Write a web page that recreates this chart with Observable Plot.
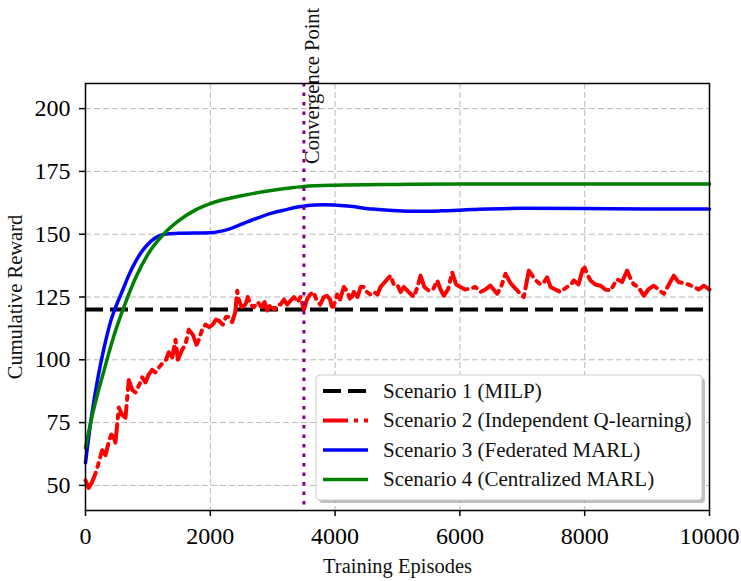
<!DOCTYPE html>
<html>
<head>
<meta charset="utf-8">
<script src="https://cdn.jsdelivr.net/npm/d3@7"></script>
<script src="https://cdn.jsdelivr.net/npm/@observablehq/plot@0.6"></script>
<style>
  html, body { margin: 0; padding: 0; background: white; }
</style>
</head>
<body>
<div id="chart"></div>
<script>
// ---- Data ----
const xTicks = [0, 2000, 4000, 6000, 8000, 10000];
const yTicks = [50, 75, 100, 125, 150, 175, 200];

const milpValue = 120;
const convergenceEpisode = 3500;

const seriesNames = [
  "Scenario 1 (MILP)",
  "Scenario 2 (Independent Q-learning)",
  "Scenario 3 (Federated MARL)",
  "Scenario 4 (Centralized MARL)"
];

// Scenario 2 (Independent Q-learning) - noisy
const qlEpisodes = [0, 50, 100, 150, 200, 267, 320, 380, 427, 480, 534, 590, 641, 694, 750, 801, 860, 908, 960, 1010,
  1068, 1120, 1180, 1229, 1290, 1335, 1390, 1442, 1480, 1549, 1600, 1656, 1720, 1780, 1816, 1870, 1923, 1980, 2040, 2090,
  2137, 2200, 2250, 2297, 2350, 2400, 2431, 2457, 2500, 2564, 2600, 2644, 2700, 2760, 2820, 2870, 2911, 2970, 3030, 3080,
  3125, 3180, 3230, 3285, 3340, 3400, 3446, 3500, 3550, 3600, 3654, 3700, 3760, 3820, 3870, 3920, 3960, 4033, 4080, 4140,
  4200, 4247, 4300, 4360, 4410, 4460, 4510, 4567, 4620, 4680, 4727, 4800, 4888, 4940, 4995, 5050, 5100, 5180, 5261, 5320,
  5369, 5430, 5500, 5570, 5636, 5690, 5743, 5810, 5876, 5940, 6009, 6080, 6170, 6250, 6330, 6410, 6490, 6540, 6597, 6660,
  6731, 6800, 6865, 6940, 7024, 7105, 7200, 7292, 7350, 7398, 7452, 7530, 7612, 7660, 7719, 7780, 7826, 7900, 7986, 8040,
  8093, 8170, 8253, 8330, 8413, 8470, 8520, 8600, 8680, 8740, 8787, 8860, 8947, 9020, 9107, 9180, 9268, 9350, 9428, 9500,
  9588, 9660, 9748, 9830, 9908, 10000];
const qlValues = [52, 49, 51, 54, 58, 64, 62, 68, 71, 67, 81, 78, 77, 92, 88, 87, 90, 93, 91, 94,
  96, 95, 97, 98.5, 100, 103, 101, 108, 100, 104, 106, 112, 110, 106, 108, 112, 114, 113, 114, 116,
  115.6, 114, 117, 117, 115, 119, 127.5, 124, 121, 122, 125, 122, 121, 123, 121, 123, 119.6, 122, 120, 122,
  122, 124, 122, 123.5, 125, 123, 125, 120, 124, 126, 127, 124, 122, 125, 125.5, 124, 120, 126, 124, 129,
  127, 123.6, 127, 125, 129, 129, 127, 126, 127, 126, 129, 131, 133.5, 130, 130, 127, 129, 127, 125, 129,
  133.5, 129, 127.6, 128, 131.6, 128, 125.5, 128, 134.8, 130, 129, 128, 128.3, 129, 127, 128, 129.5, 128, 126.3, 129,
  134.2, 131, 129, 127, 125, 135.5, 132, 130, 131, 132.8, 129, 128, 127, 128, 129, 130, 131.6, 130, 137.5, 134,
  131.6, 130, 129.5, 128, 127.6, 130, 132, 131, 135.5, 132, 130, 129, 125.5, 128, 129.5, 128, 126.3, 130, 133.5, 131,
  130.5, 130, 129, 128, 129.5, 128];

// Scenario 3 (Federated MARL)
const fedEpisodes = [0, 100, 200, 300, 400, 500, 600, 700, 800, 900, 1000, 1100, 1200, 1300, 1500, 2000, 2300, 2600, 3000, 3200,
  3400, 3800, 4200, 4600, 5000, 5300, 5700, 6200, 7000, 8000, 9000, 10000];
const fedValues = [59, 78, 93, 105, 115, 122, 128, 134, 139, 143, 146, 148.2, 149.5, 150.1, 150.4, 150.6, 152, 155, 158.5, 159.7,
  160.8, 161.7, 161.2, 160, 159.3, 159.1, 159.3, 159.8, 160.3, 160.2, 160, 160];

// Scenario 4 (Centralized MARL)
const cenEpisodes = [0, 100, 200, 300, 400, 500, 600, 800, 1000, 1250, 1500, 1750, 2000, 2500, 3000, 3500, 4000, 5000, 6000, 8000, 10000];
const cenValues = [65, 77, 87, 96, 105, 113, 120, 132.5, 142, 150, 155.5, 159.5, 162.2, 165.3, 167.5, 169, 169.5, 169.8, 170, 170, 170];

const toRows = (xs, ys) => xs.map((x, i) => ({x, y: ys[i]}));
const qlData = toRows(qlEpisodes, qlValues);
const fedData = toRows(fedEpisodes, fedValues);
const cenData = toRows(cenEpisodes, cenValues);

const FONT = "'Liberation Serif', 'Times New Roman', Times, serif";

const styles = [
  {stroke: "black", strokeWidth: 4, strokeDasharray: "18,7"},
  {stroke: "#ff0000", strokeWidth: 4, strokeDasharray: "25,6,4,6"},
  {stroke: "#0000ff", strokeWidth: 3.5, strokeDasharray: null},
  {stroke: "#008000", strokeWidth: 3.5, strokeDasharray: null}
];

const plot = Plot.plot({
  width: 741,
  height: 581,
  marginTop: 83,
  marginRight: 32,
  marginBottom: 71,
  marginLeft: 85,
  style: {fontFamily: FONT, fontSize: "24px", color: "black", background: "white"},
  x: {domain: [0, 10000]},
  y: {domain: [40, 210]},
  marks: [
    Plot.gridX(xTicks, {stroke: "#b8b8b8", strokeOpacity: 1, strokeWidth: 1, strokeDasharray: "6,3"}),
    Plot.gridY(yTicks, {stroke: "#b8b8b8", strokeOpacity: 1, strokeWidth: 1, strokeDasharray: "6,3"}),
    Plot.axisX(xTicks, {tickSize: 6, tickPadding: 10, fontSize: 24, label: null, strokeWidth: 1.5, tickFormat: d => String(d)}),
    Plot.axisY(yTicks, {tickSize: 6, tickPadding: 9, fontSize: 24, label: null, strokeWidth: 1.5, tickFormat: d => String(d)}),
    Plot.ruleY([milpValue], {...styles[0]}),
    Plot.line(qlData, {x: "x", y: "y", ...styles[1]}),
    Plot.line(fedData, {x: "x", y: "y", curve: "monotone-x", ...styles[2]}),
    Plot.line(cenData, {x: "x", y: "y", curve: "monotone-x", ...styles[3]}),
    Plot.ruleX([convergenceEpisode], {stroke: "#800080", strokeWidth: 3, strokeDasharray: "3.5,6"}),
    Plot.text([{x: convergenceEpisode, y: 178, t: "Convergence Point"}], {
      x: "x", y: "y", text: "t", rotate: -90, textAnchor: "start", lineAnchor: "top",
      fontSize: 20.5, fill: "#111", dx: 1
    }),
    Plot.text(["Cumulative Reward"], {
      frameAnchor: "left", dx: -78, rotate: -90, lineAnchor: "top", textAnchor: "middle", fontSize: 20.5, fill: "#111"
    }),
    Plot.text(["Training Episodes"], {
      frameAnchor: "bottom", dy: 55.6, lineAnchor: "middle", fontSize: 20.5, fill: "#111"
    }),
    Plot.frame({stroke: "black", strokeWidth: 1.5})
  ]
});

// ---- Legend (inside plot, lower right) ----
const svg = d3.select(plot);
const lg = svg.append("g").attr("font-family", FONT).attr("font-size", 21).attr("text-anchor", "start");
const bx = 316, by = 375, bw = 386, bh = 125;
lg.append("rect").attr("x", bx + 3).attr("y", by + 3).attr("width", bw).attr("height", bh)
  .attr("rx", 4).attr("fill", "#7f7f7f").attr("fill-opacity", 0.5);
lg.append("rect").attr("x", bx).attr("y", by).attr("width", bw).attr("height", bh)
  .attr("rx", 4).attr("fill", "white").attr("stroke", "#cccccc").attr("stroke-width", 1);
seriesNames.forEach((name, i) => {
  const yy = 391 + i * 29.5;
  const s = styles[i];
  const ln = lg.append("line").attr("x1", 323).attr("x2", 368).attr("y1", yy).attr("y2", yy)
    .attr("stroke", s.stroke).attr("stroke-width", s.strokeWidth);
  if (s.strokeDasharray) ln.attr("stroke-dasharray", s.strokeDasharray);
  lg.append("text").attr("x", 383).attr("y", yy).attr("dy", "0.32em").attr("fill", "#111")
    .attr("text-anchor", "start").text(name);
});

document.getElementById("chart").appendChild(plot);
</script>
</body>
</html>
